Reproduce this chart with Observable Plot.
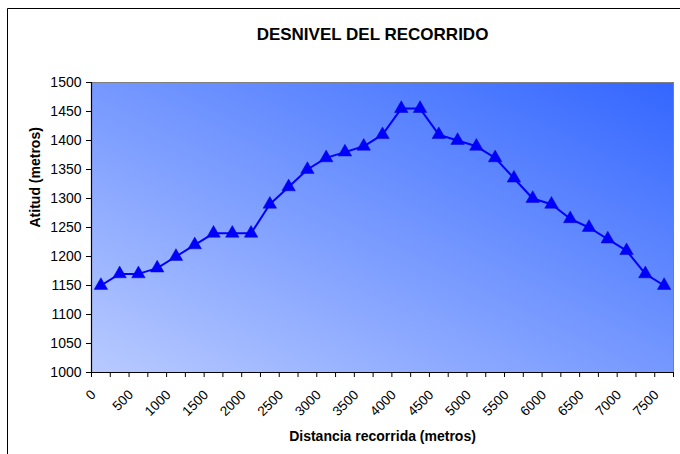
<!DOCTYPE html>
<html>
<head>
<meta charset="utf-8">
<script src="https://cdn.jsdelivr.net/npm/d3@7"></script>
<script src="https://cdn.jsdelivr.net/npm/@observablehq/plot@0.6"></script>
<style>
  html, body { margin: 0; padding: 0; background: #fff; }
  #chart svg { display: block; }
</style>
</head>
<body>
<div id="chart"></div>
<script>
// Data
const title = "DESNIVEL DEL RECORRIDO";
const xTitle = "Distancia recorrida (metros)";
const yTitle = "Atitud (metros)";
const distances = d3.range(0, 7501, 250); // category positions (metres)
const altitudes = [1150, 1170, 1170, 1180, 1200, 1220, 1240, 1240, 1240, 1290,
                   1320, 1350, 1370, 1380, 1390, 1410, 1455, 1455, 1410, 1400,
                   1390, 1370, 1335, 1300, 1290, 1265, 1250, 1230, 1210, 1170, 1150];
const xTickLabels = [0, 500, 1000, 1500, 2000, 2500, 3000, 3500, 4000, 4500,
                     5000, 5500, 6000, 6500, 7000, 7500];
const yTicks = [1000, 1050, 1100, 1150, 1200, 1250, 1300, 1350, 1400, 1450, 1500];

const data = distances.map((d, i) => ({d, h: altitudes[i]}));
const step = 250;
const xBoundaries = d3.range(-step / 2, 7500 + step, step);

const font = "'Liberation Sans', Arial, sans-serif";

// gradient definitions
function gradientDefs() {
  const defs = d3.create("svg:defs");
  const g = defs.append("linearGradient")
    .attr("id", "plotbg")
    .attr("x1", 0).attr("y1", 1).attr("x2", 1).attr("y2", 0);
  g.append("stop").attr("offset", "0%").attr("stop-color", "#b8caff");
  g.append("stop").attr("offset", "100%").attr("stop-color", "#3366ff");
  return defs.node();
}

// outer chart border (left & top edges visible)
function outerBorder(index, scales, values, dims) {
  return d3.create("svg:path")
    .attr("d", `M7.5,${dims.height} V8.5 H${dims.width}`)
    .attr("fill", "none")
    .attr("stroke", "#000")
    .attr("stroke-width", 1)
    .node();
}

const chart = Plot.plot({
  width: 680,
  height: 454,
  marginLeft: 91,
  marginRight: 7,
  marginTop: 82,
  marginBottom: 82,
  style: {fontFamily: font, fontSize: "14px", color: "#000", background: "#fff"},
  x: {domain: [-step / 2, 7500 + step / 2]},
  y: {domain: [1000, 1500]},
  marks: [
    gradientDefs,
    outerBorder,
    Plot.frame({fill: "url(#plotbg)", stroke: "#808080"}),
    Plot.ruleX([-step / 2], {stroke: "#000", strokeWidth: 1.2}),
    Plot.ruleY([1000], {stroke: "#000", strokeWidth: 1.2}),
    Plot.axisY({ticks: yTicks, tickSize: 5, tickPadding: 5, label: null, fontSize: 14, tickFormat: d => String(d)}),
    Plot.axisX({ticks: xBoundaries, tickSize: 5, tickFormat: () => "", label: null}),
    Plot.text(xTickLabels, {x: d => d, frameAnchor: "bottom", rotate: -45, textAnchor: "end",
      lineAnchor: "middle", dx: -7.5, dy: 20, fontSize: 13.5, text: d => String(d)}),
    Plot.line(data, {x: "d", y: "h", stroke: "#0000ff", strokeWidth: 2}),
    Plot.dot(data, {x: "d", y: "h", symbol: "triangle", r: 5, fill: "#0000ff", stroke: "#0000cc", strokeWidth: 0.5}),
    Plot.text([title], {frameAnchor: "top", lineAnchor: "middle", dx: -10, dy: -48, fontSize: 17, fontWeight: "bold", text: d => d}),
    Plot.text([xTitle], {frameAnchor: "bottom", lineAnchor: "middle", dy: 64, fontSize: 14, fontWeight: "bold", text: d => d}),
    Plot.text([yTitle], {frameAnchor: "left", dx: -56, rotate: -90, fontSize: 14, fontWeight: "bold", text: d => d})
  ]
});

document.getElementById("chart").appendChild(chart);
</script>
</body>
</html>
